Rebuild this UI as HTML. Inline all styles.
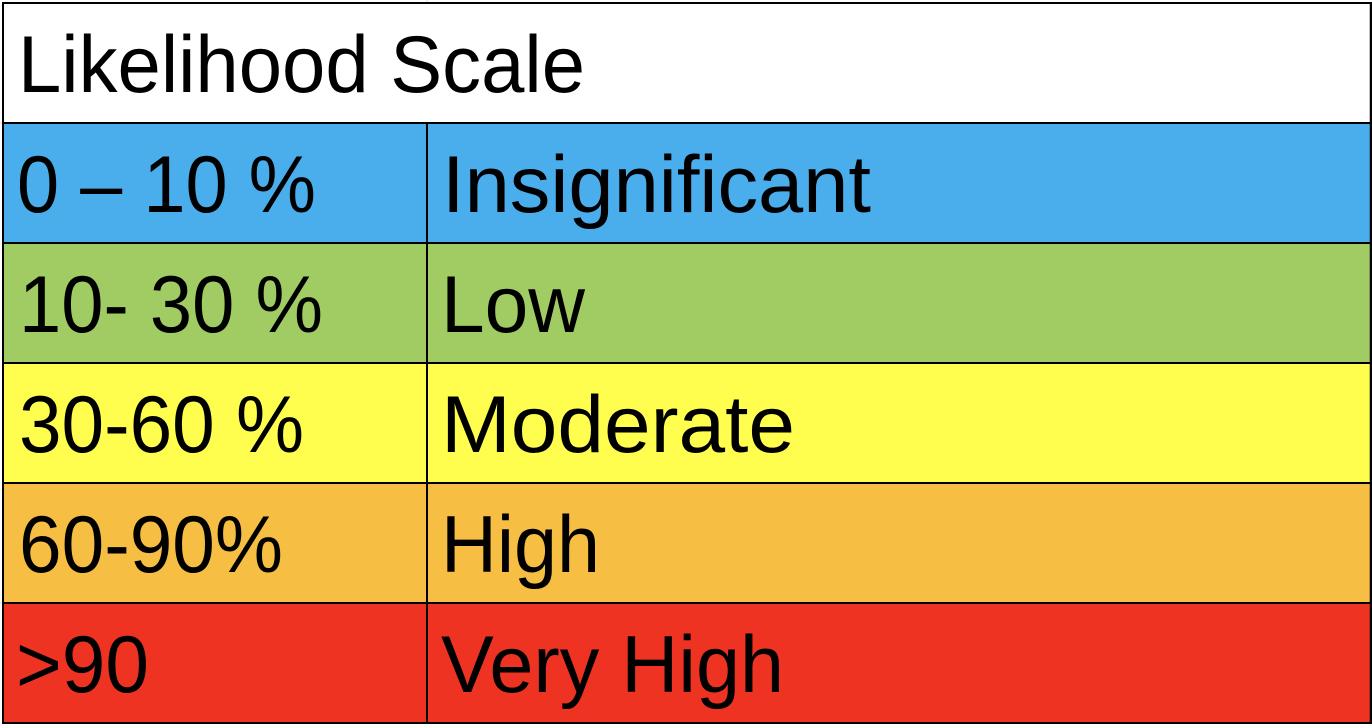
<!DOCTYPE html>
<html lang="en">
<head>
<meta charset="utf-8">
<title>Likelihood Scale</title>
<style>
html,body{margin:0;padding:0;background:#fff;width:1372px;height:724px;overflow:hidden}
svg{display:block}
text{font-family:"Liberation Sans",sans-serif;font-size:81px;fill:#000}
</style>
</head>
<body>
<svg width="1372" height="724" viewBox="0 0 1372 724">
  <rect x="0" y="0" width="1372" height="724" fill="#fff"/>
  <rect x="3" y="123" width="1367" height="120" fill="#4aadec"/>
  <rect x="3" y="243" width="1367" height="120" fill="#a0cc63"/>
  <rect x="3" y="363" width="1367" height="120" fill="#fffe4e"/>
  <rect x="3" y="483" width="1367" height="120" fill="#f6be42"/>
  <rect x="3" y="603" width="1367" height="120" fill="#ee3323"/>

  <g stroke="#d8d8d8" stroke-width="1" fill="none">
    <line x1="427" y1="0" x2="427" y2="2"/>
    <line x1="0" y1="123" x2="2" y2="123"/>
    <line x1="0" y1="603" x2="2" y2="603"/>
  </g>

  <g stroke="#000" stroke-width="2" fill="none">
    <line x1="2" y1="3" x2="1371" y2="3"/>
    <line x1="3" y1="123" x2="1371" y2="123"/>
    <line x1="3" y1="243" x2="1371" y2="243"/>
    <line x1="3" y1="363" x2="1371" y2="363"/>
    <line x1="3" y1="483" x2="1371" y2="483"/>
    <line x1="3" y1="603" x2="1371" y2="603"/>
    <line x1="2" y1="723" x2="1371" y2="723"/>
    <line x1="3" y1="2" x2="3" y2="724"/>
    <line x1="427" y1="123" x2="427" y2="724"/>
    <line x1="1371" y1="2" x2="1371" y2="724" stroke-width="2.5"/>
  </g>

  <text x="18" y="92" textLength="567" lengthAdjust="spacingAndGlyphs">Likelihood Scale</text>

  <text x="17" y="212" textLength="299" lengthAdjust="spacingAndGlyphs">0 – 10 %</text>
  <text x="442" y="212" textLength="429" lengthAdjust="spacingAndGlyphs">Insignificant</text>

  <text x="19" y="332" textLength="304" lengthAdjust="spacingAndGlyphs">10- 30 %</text>
  <text x="441" y="332" textLength="144" lengthAdjust="spacingAndGlyphs">Low</text>

  <text x="19" y="452" textLength="285" lengthAdjust="spacingAndGlyphs">30-60 %</text>
  <text x="441" y="452" textLength="354" lengthAdjust="spacingAndGlyphs">Moderate</text>

  <text x="19" y="572" textLength="264" lengthAdjust="spacingAndGlyphs">60-90%</text>
  <text x="441" y="572" textLength="159" lengthAdjust="spacingAndGlyphs">High</text>

  <text x="16" y="692" textLength="133" lengthAdjust="spacingAndGlyphs">&gt;90</text>
  <text x="441" y="692" textLength="343" lengthAdjust="spacingAndGlyphs">Very High</text>
</svg>
</body>
</html>
